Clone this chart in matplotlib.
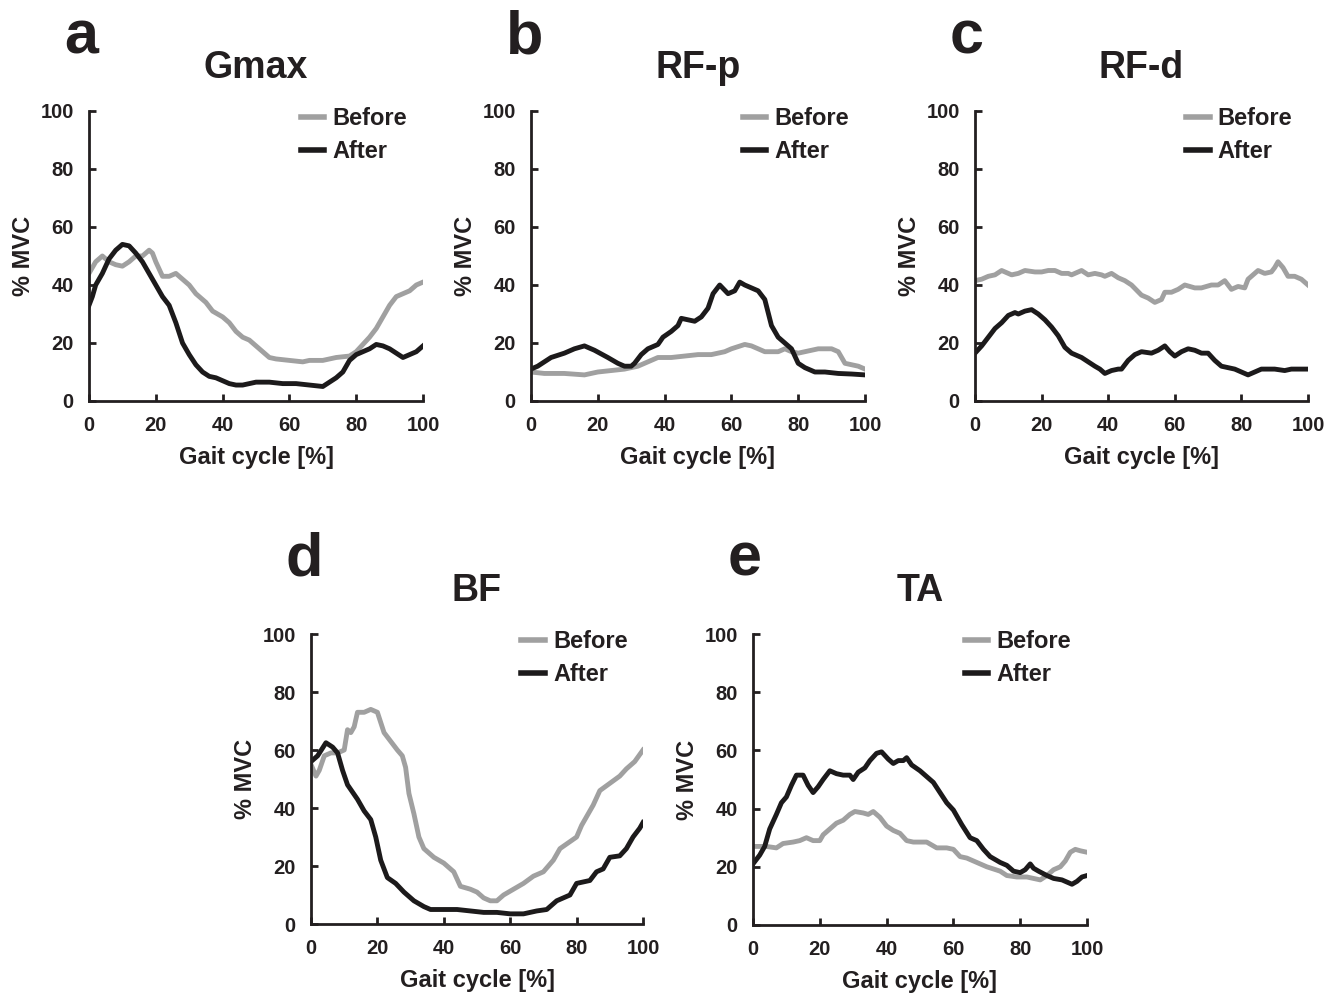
import matplotlib
matplotlib.use("Agg")
import matplotlib.pyplot as plt

plt.rcParams['font.family'] = ['Liberation Sans', 'DejaVu Sans']
plt.rcParams['font.weight'] = 'bold'

panel_letters = ['a', 'b', 'c', 'd', 'e']
titles = ['Gmax', 'RF-p', 'RF-d', 'BF', 'TA']
series_labels = ['Before', 'After']
xticks = [0, 20, 40, 60, 80, 100]
yticks = [0, 20, 40, 60, 80, 100]
xlabel = 'Gait cycle [%]'
ylabel = '% MVC'

# ---- Gmax ----
gmax_before_x = [0, 2, 4, 6, 8, 10, 12, 14, 16, 18, 19, 20, 22, 24, 26, 27, 30, 32, 35, 37, 40, 42, 44, 46,
                 48, 50, 52, 54, 56, 60, 64, 66, 70, 74, 78, 80, 82, 84, 86, 88, 90, 92, 94, 96, 98, 100]
gmax_before_y = [44, 48, 50, 48, 47, 46.5, 48, 50, 50, 52, 51, 48, 43, 43, 44, 43, 40, 37, 34, 31, 29, 27, 24, 22,
                 21, 19, 17, 15, 14.5, 14, 13.5, 14, 14, 15, 15.5, 17, 19.5, 22, 25, 29, 33, 36, 37, 38, 40, 41]
gmax_after_x = [0, 1, 2, 4, 6, 8, 10, 12, 14, 16, 18, 20, 22, 24, 26, 28, 30, 32, 34, 36, 38, 40, 42, 44, 46,
                48, 50, 54, 58, 62, 66, 70, 72, 74, 76, 78, 80, 84, 86, 88, 90, 94, 96, 98, 100]
gmax_after_y = [33, 36, 40, 44, 49, 52, 54, 53.5, 51, 48, 44, 40, 36, 33, 27, 20, 16, 12.5, 10, 8.5, 8, 7, 6, 5.5, 5.5,
                6, 6.5, 6.5, 6, 6, 5.5, 5, 6.5, 8, 10, 14, 16, 18, 19.5, 19, 18, 15, 16, 17, 19]

# ---- RF-p ----
rfp_before_x = [0, 4, 10, 16, 20, 24, 28, 32, 34, 38, 42, 46, 50, 54, 58, 60, 64, 66, 70, 74, 76, 78, 80, 82,
                86, 90, 92, 94, 98, 100]
rfp_before_y = [10, 9.5, 9.5, 9, 10, 10.5, 11, 12, 13, 15, 15, 15.5, 16, 16, 17, 18, 19.5, 19, 17, 17, 18, 17, 16.5, 17,
                18, 18, 17, 13, 12, 11]
rfp_after_x = [0, 2, 6, 10, 13, 16, 19, 23, 26, 28, 30, 31, 33, 35, 38, 39.5, 42, 44, 45, 47, 49, 51, 53, 54.5,
               55.5, 56.5, 59, 61, 62.5, 64, 66, 68, 70, 72, 74, 76, 78, 80, 82, 85, 88, 92, 96, 100]
rfp_after_y = [11, 12, 15, 16.5, 18, 19, 17.5, 15, 13, 12, 12, 13, 16, 18, 19.5, 22, 24, 26, 28.5, 28, 27.5, 29, 32, 37,
               38.5, 40, 37, 38, 41, 40, 39, 38, 35, 26, 22, 20, 18, 13, 11.5, 10, 10, 9.5, 9.3, 9]

# ---- RF-d ----
rfd_before_x = [0, 2, 4, 6, 8, 11, 13, 15, 18, 20, 22, 24, 26, 28, 29, 31, 32, 34, 36, 38, 39, 41, 43, 45, 47,
                50, 52, 54, 56, 57, 59, 61, 63, 66, 68, 71, 73, 75, 77, 79, 81, 82, 84, 85, 87, 89, 90, 91,
                92.5, 94, 96, 98, 100]
rfd_before_y = [41.5, 42, 43, 43.5, 45, 43.5, 44, 45, 44.5, 44.5, 45, 45, 44, 44, 43.5, 44.5, 45, 43.5, 44, 43.5, 43, 44,
                42.5, 41.5, 40, 36.5, 35.5, 34, 35, 37.5, 37.5, 38.5, 40, 39, 39, 40, 40, 41.5, 38.5, 39.5, 39, 42,
                44, 45, 44, 44.5, 46, 48, 46, 43, 43, 42, 40]
rfd_after_x = [0, 2, 4, 6, 8, 10, 12, 13, 15, 17, 19, 21, 23, 25, 27, 29, 32, 34, 36, 37.5, 39, 41, 43, 44, 46,
               48, 50, 53, 55, 57, 58.5, 60, 62, 64, 66, 68, 70, 72, 74, 76, 78, 80, 82, 84, 86, 88, 90, 93,
               95, 100]
rfd_after_y = [16.5, 19, 22, 25, 27, 29.5, 30.5, 30, 31, 31.5, 30, 28, 25.5, 22.5, 18.5, 16.5, 15, 13.5, 12, 11, 9.5, 10.5,
               11, 11, 14, 16, 17, 16.5, 17.5, 19, 17, 15.5, 17, 18, 17.5, 16.5, 16.5, 14, 12, 11.5, 11, 10, 9, 10,
               11, 11, 11, 10.5, 11, 11]

# ---- BF ----
bf_before_x = [0, 1.5, 2.5, 4, 6, 8, 10, 11, 12, 13, 14, 16, 18, 20, 22, 24, 26, 27.5, 28.5, 29.5, 31, 32.5,
               34, 37, 40, 43, 45, 48, 50, 52, 54, 56, 58, 61, 64, 67, 70, 73, 75, 80, 81.5, 84, 85, 87, 90,
               93, 95, 97.5, 100]
bf_before_y = [55, 51, 53, 58, 59, 59, 60, 67, 66, 68, 73, 73, 74, 73, 66, 63, 60, 58, 54, 45, 38, 30,
               26, 23, 21, 18, 13, 12, 11, 9, 8, 8, 10, 12, 14, 16.5, 18, 22, 26, 30, 34, 39, 41, 46, 48.5,
               51, 53.5, 56, 60]
bf_after_x = [0, 2, 4.5, 6.5, 8, 9.5, 11, 14, 16, 18, 19.5, 21, 23, 25.5, 28, 31, 34, 36, 40, 44, 48, 52, 56,
              60, 64, 68, 71, 74, 78, 80, 84, 86, 88, 90, 93, 95, 97, 99, 100]
bf_after_y = [56, 58, 62.5, 61, 59, 53, 48, 43, 39, 36, 30, 22, 16, 14, 11, 8, 6, 5, 5, 5, 4.5, 4, 4,
              3.5, 3.5, 4.5, 5, 8, 10, 14, 15, 18, 19, 23, 23.5, 26, 30, 33, 35]

# ---- TA ----
ta_before_x = [0, 4, 7, 9, 12, 14, 16, 18, 20, 21, 23, 25, 27, 29, 30.5, 33, 34.5, 36, 38, 40, 42, 44, 46, 48,
               50, 52, 55, 58, 60, 62, 64, 67, 70, 74, 76, 79, 82, 84, 86, 88, 90, 92, 93.5, 95, 96.5, 98, 100]
ta_before_y = [27, 27, 26.5, 28, 28.5, 29, 30, 29, 29, 31, 33, 35, 36, 38, 39, 38.5, 38, 39, 37, 34, 32.5, 31.5, 29, 28.5,
               28.5, 28.5, 26.5, 26.5, 26, 23.5, 23, 21.5, 20, 18.5, 17, 16.5, 16.5, 16, 15.5, 17, 19, 20, 22, 25, 26,
               25.5, 25]
ta_after_x = [0, 2, 3.5, 5, 7, 8.5, 10, 11.5, 13, 15, 16.5, 18, 19.5, 21, 23, 25, 27, 29, 30, 31.5, 33.5, 35, 37,
              38.5, 40.5, 42, 43.5, 45, 46, 47.5, 50, 52, 54, 56, 58, 60, 62.5, 65, 67, 69, 71, 74, 76, 78, 80,
              81.5, 83, 84, 85.5, 88, 90, 92.5, 95.5, 97, 98.5, 100]
ta_after_y = [21, 24, 27, 33, 38, 42, 44, 48, 51.5, 51.5, 48, 45.5, 47.5, 50, 53, 52, 51.5, 51.5, 50, 52.5, 54, 56.5, 59,
              59.5, 57, 55.5, 56.5, 56.5, 57.5, 55, 53, 51, 49, 45.5, 42, 39.5, 34.5, 30, 29, 26, 23.5, 21.5, 20.5, 18.5, 18,
              19, 21, 19.5, 18.5, 17, 16, 15.5, 14, 15, 16.5, 17]

panels = [
    (gmax_before_x, gmax_before_y, gmax_after_x, gmax_after_y),
    (rfp_before_x, rfp_before_y, rfp_after_x, rfp_after_y),
    (rfd_before_x, rfd_before_y, rfd_after_x, rfd_after_y),
    (bf_before_x, bf_before_y, bf_after_x, bf_after_y),
    (ta_before_x, ta_before_y, ta_after_x, ta_after_y),
]

W, H = 1337, 994
fig = plt.figure(figsize=(W / 100, H / 100), dpi=100)

# axes pixel boxes: (left, top, right, bottom)
boxes = [(89, 111, 423, 401), (531, 111, 865, 401), (975, 111, 1308, 401),
         (311, 634, 643, 924), (753, 634, 1087, 925)]

before_color = '#a0a0a0'
after_color = '#1c1a1b'
text_color = '#231f20'

for i, (l, t, r, b) in enumerate(boxes):
    ax = fig.add_axes([l / W, 1 - b / H, (r - l) / W, (b - t) / H])
    bx, by, axx, ayy = panels[i]
    ax.plot(bx, by, color=before_color, lw=3.5, label=series_labels[0], solid_joinstyle='round')
    ax.plot(axx, ayy, color=after_color, lw=3.5, label=series_labels[1], solid_joinstyle='round')
    ax.set_xlim(0, 100)
    ax.set_ylim(0, 100)
    ax.set_xticks(xticks)
    ax.set_yticks(yticks)
    for s in ['top', 'right']:
        ax.spines[s].set_visible(False)
    for s in ['left', 'bottom']:
        ax.spines[s].set_linewidth(2.0)
        ax.spines[s].set_color(text_color)
        ax.spines[s].set_clip_on(False)
    ax.tick_params(direction='in', length=5, width=2, colors=text_color, labelsize=14.5)
    ax.tick_params(axis='x', pad=11)
    ax.tick_params(axis='y', pad=11)
    for lab in ax.get_xticklabels() + ax.get_yticklabels():
        lab.set_fontweight('bold')
    ax.set_xlabel(xlabel, fontsize=17, fontweight='bold', color=text_color, labelpad=8)
    ax.set_ylabel(ylabel, fontsize=17, fontweight='bold', color=text_color, labelpad=4)
    ax.set_title(titles[i], fontsize=27, fontweight='bold', color=text_color, pad=24)
    leg = ax.legend(loc='upper left', bbox_to_anchor=(0.605, 1.045), frameon=False,
                    handlelength=1.0, handletextpad=0.35, labelspacing=0.4,
                    prop={'size': 17, 'weight': 'bold'}, borderaxespad=0)
    for txt in leg.get_texts():
        txt.set_color(text_color)
    for ln in leg.get_lines():
        ln.set_linewidth(4)
    fig.text((l - 25) / W, 1 - (t - 58) / H, panel_letters[i], fontsize=44, fontweight='bold',
             color=text_color, ha='left', va='baseline')

fig.savefig('out.png', dpi=100)
